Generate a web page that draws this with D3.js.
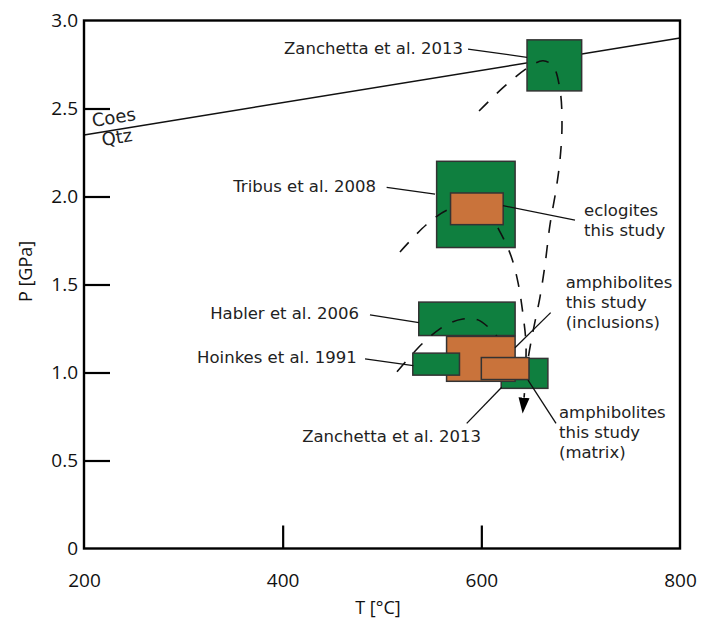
<!DOCTYPE html>
<html lang="en">
<head>
<meta charset="UTF-8">
<title>P-T diagram</title>
<script src="https://d3js.org/d3.v7.min.js"></script>
<style>
  body { margin: 0; background: #fff; }
  svg { display: block; }
  .tick text { font-family: "Open Sans", sans-serif; font-size: 19px; fill: #111; }
  .title { font-family: "Open Sans", sans-serif; font-size: 18px; fill: #111; }
  .note { font-family: "DejaVu Sans", sans-serif; font-size: 16.5px; fill: #222; }
</style>
</head>
<body>
<svg width="712" height="621"></svg>
<script>
// axis ticks
const xTicks = [200, 400, 600, 800];
const yTicks = [0, 0.5, 1.0, 1.5, 2.0, 2.5, 3.0];

// coesite / quartz reaction line
const reactionT = [200, 800];
const reactionP = [2.35, 2.90];

// P-T boxes [Tmin, Tmax], [Pmin, Pmax]
const boxNames = ["Tribus et al. 2008", "Zanchetta et al. 2013 (HP)", "Habler et al. 2006",
                  "eclogites", "Zanchetta et al. 2013", "amphibolites (inclusions)",
                  "Hoinkes et al. 1991", "amphibolites (matrix)"];
const boxT = [[555, 634], [646, 701], [537, 634], [569, 622], [620, 667], [565, 634], [531, 578], [600, 648]];
const boxP = [[1.71, 2.20], [2.60, 2.89], [1.21, 1.40], [1.84, 2.02], [0.91, 1.08], [0.95, 1.205], [0.985, 1.11], [0.96, 1.085]];
const boxSource = ["literature", "literature", "literature", "this study", "literature", "this study", "literature", "this study"];

// dashed P-T paths
const pathA = [[597.7, 2.486], [623.8, 2.628], [648.0, 2.736], [662.1, 2.771], [672.1, 2.742], [679.2, 2.606],
               [681.2, 2.407], [679.2, 2.209], [675.2, 2.038], [669.1, 1.839], [664.1, 1.612], [659.1, 1.43],
               [652.0, 1.232], [647.0, 1.073], [643.0, 0.857]];
const pathB = [[518.1, 1.685], [544.3, 1.838], [565.4, 1.923], [586.6, 1.952], [606.7, 1.907], [618.8, 1.799],
               [629.9, 1.662], [637.0, 1.509], [642.0, 1.327], [645.0, 1.157], [644.0, 0.958]];
const pathC = [[515.1, 1.004], [541.3, 1.168], [564.4, 1.27], [581.5, 1.304], [596.6, 1.299], [613.7, 1.219], [621.8, 1.156]];

// labels with leader lines (data coordinates)
const notes = [
  { lines: ["Zanchetta et al. 2013"], at: [581.5, 2.81], anchor: "end", leader: [[586.6, 2.837], [646, 2.791]] },
  { lines: ["Tribus et al. 2008"], at: [494, 2.026], anchor: "end", leader: [[504.7, 2.052], [553.4, 2.014]] },
  { lines: ["eclogites", "this study"], at: [703.4, 1.889], anchor: "start", leader: [[621.8, 1.948], [694.3, 1.866]] },
  { lines: ["Habler et al. 2006"], at: [476.8, 1.304], anchor: "end", leader: [[487.9, 1.327], [537.2, 1.283]] },
  { lines: ["Hoinkes et al. 1991"], at: [474.5, 1.054], anchor: "end", leader: [[482.9, 1.077], [531.5, 1.039]] },
  { lines: ["amphibolites", "this study", "(inclusions)"], at: [684.9, 1.48], anchor: "start", leader: [[633.9, 1.141], [669.8, 1.34]] },
  { lines: ["amphibolites", "this study", "(matrix)"], at: [678.2, 0.741], anchor: "start", leader: [[647.0, 0.957], [675.2, 0.711]] },
  { lines: ["Zanchetta et al. 2013"], at: [599.7, 0.605], anchor: "end", leader: [[585.3, 0.711], [620.5, 0.916]] }
];

const svg = d3.select("svg");
const x = d3.scaleLinear().domain([200, 800]).range([84, 680]);
const y = d3.scaleLinear().domain([0, 3]).range([548.5, 20.5]);

const green = "#0f7f3f";
const orange = "#c9733b";

// reaction line (under boxes)
svg.append("line")
    .attr("x1", x(reactionT[0])).attr("y1", y(reactionP[0]))
    .attr("x2", x(reactionT[1])).attr("y2", y(reactionP[1]))
    .attr("stroke", "#111").attr("stroke-width", 1.5);

const angle = Math.atan2(y(reactionP[1]) - y(reactionP[0]), x(reactionT[1]) - x(reactionT[0])) * 180 / Math.PI;
[["Coes", 209, 2.395], ["Qtz", 219, 2.287]].forEach(([t, T, P]) => {
    svg.append("text").attr("class", "note").style("font-size", "18px")
        .attr("transform", `translate(${x(T)},${y(P)}) rotate(${angle})`)
        .text(t);
});

const drawBox = i => {
    svg.append("rect")
        .attr("x", x(boxT[i][0])).attr("y", y(boxP[i][1]))
        .attr("width", x(boxT[i][1]) - x(boxT[i][0]))
        .attr("height", y(boxP[i][0]) - y(boxP[i][1]))
        .attr("fill", boxSource[i] === "this study" ? orange : green)
        .attr("stroke", "#333").attr("stroke-width", 1.5);
};

[0, 1, 2].forEach(drawBox);

// dashed paths
svg.append("defs").append("marker")
    .attr("id", "arrow").attr("markerUnits", "userSpaceOnUse")
    .attr("viewBox", "0 -6 16 12").attr("refX", 0).attr("refY", 0)
    .attr("markerWidth", 16).attr("markerHeight", 12).attr("orient", "auto")
    .append("path").attr("d", "M0,-5.5L16,0L0,5.5Z").attr("fill", "#000");

const line = d3.line().x(d => x(d[0])).y(d => y(d[1])).curve(d3.curveCatmullRom);
[pathA, pathB, pathC].forEach((p, i) => {
    svg.append("path").datum(p).attr("d", line)
        .attr("fill", "none").attr("stroke", "#111").attr("stroke-width", 1.6)
        .attr("stroke-dasharray", "13,12")
        .attr("marker-end", i === 0 ? "url(#arrow)" : null);
});

[3, 4, 5, 6, 7].forEach(drawBox);

// leaders and labels
notes.forEach(n => {
    svg.append("line")
        .attr("x1", x(n.leader[0][0])).attr("y1", y(n.leader[0][1]))
        .attr("x2", x(n.leader[1][0])).attr("y2", y(n.leader[1][1]))
        .attr("stroke", "#111").attr("stroke-width", 1.3);
    const t = svg.append("text").attr("class", "note")
        .attr("text-anchor", n.anchor)
        .attr("x", x(n.at[0])).attr("y", y(n.at[1]));
    n.lines.forEach((s, k) => t.append("tspan").attr("x", x(n.at[0])).attr("dy", k ? 20 : 0).text(s));
});

// axes
const yAxis = svg.append("g").attr("transform", `translate(${x(200)},0)`)
    .call(d3.axisLeft(y).tickValues(yTicks).tickSize(-26).tickPadding(6)
        .tickFormat(d => d === 0 ? "0" : d3.format(".1f")(d)));
const xAxis = svg.append("g").attr("transform", `translate(0,${y(0)})`)
    .call(d3.axisBottom(x).tickValues(xTicks).tickSize(-23).tickPadding(25));
[yAxis, xAxis].forEach(a => {
    a.select(".domain").remove();
    a.selectAll(".tick line").attr("stroke", "#000").attr("stroke-width", 2.2);
});
yAxis.selectAll(".tick line").filter(d => d === 0 || d === 3).remove();
xAxis.selectAll(".tick line").filter(d => d === 200 || d === 800).remove();

svg.append("rect")
    .attr("x", x(200)).attr("y", y(3))
    .attr("width", x(800) - x(200)).attr("height", y(0) - y(3))
    .attr("fill", "none").attr("stroke", "#000").attr("stroke-width", 2.4);

svg.append("text").attr("class", "title").attr("text-anchor", "middle")
    .attr("x", 378).attr("y", 614).text("T [°C]");
svg.append("text").attr("class", "title").attr("text-anchor", "middle")
    .attr("transform", "translate(32,271.5) rotate(-90)").text("P [GPa]");
</script>
</body>
</html>
